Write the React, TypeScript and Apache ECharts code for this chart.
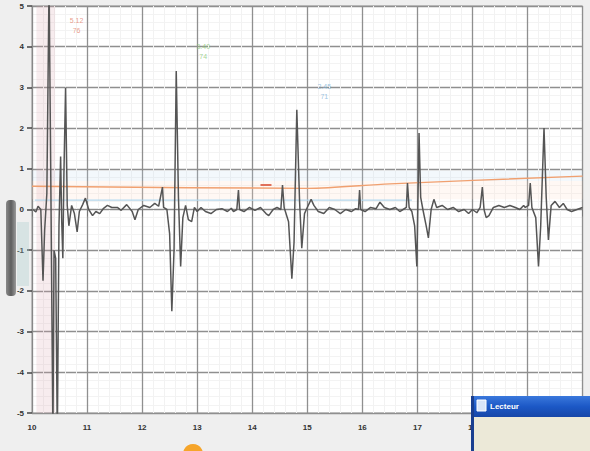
import React, { useEffect, useRef } from "react";
import * as echarts from "echarts";

const ecgTime = [
  10.02, 10.07, 10.11, 10.16, 10.2, 10.23, 10.27, 10.31, 10.34, 10.38, 10.4, 10.43, 10.46, 10.49,
  10.52, 10.54, 10.56, 10.58, 10.61, 10.64, 10.67, 10.72, 10.77, 10.82, 10.86, 10.92, 10.97, 11.03,
  11.1, 11.16, 11.23, 11.3, 11.37, 11.45, 11.55, 11.62, 11.72, 11.82, 11.87, 11.93, 12.03, 12.14,
  12.23, 12.3, 12.37, 12.39, 12.45, 12.5, 12.54, 12.58, 12.62, 12.66, 12.7, 12.74, 12.79, 12.84,
  12.9, 12.95, 13.0, 13.07, 13.15, 13.25, 13.35, 13.45, 13.55, 13.62, 13.66, 13.72, 13.75, 13.77,
  13.85, 13.95, 14.05, 14.15, 14.25, 14.3, 14.38, 14.45, 14.52, 14.55, 14.58, 14.66, 14.72, 14.76,
  14.81, 14.86, 14.9, 14.95, 15.0, 15.07, 15.12, 15.2, 15.3, 15.4, 15.5, 15.6, 15.7, 15.8, 15.88,
  15.93, 15.95, 15.97, 16.05, 16.15, 16.25, 16.32, 16.4, 16.5, 16.6, 16.68, 16.74, 16.8, 16.82,
  16.85, 16.9, 16.95, 16.99, 17.03, 17.06, 17.1, 17.16, 17.2, 17.25, 17.3, 17.35, 17.45, 17.55,
  17.65, 17.75, 17.85, 17.93, 18.0, 18.08, 18.14, 18.18, 18.21, 18.25, 18.3, 18.38, 18.48, 18.58,
  18.68, 18.78, 18.86, 18.93, 18.96, 19.02, 19.05, 19.08, 19.15, 19.2, 19.24, 19.3, 19.34, 19.38,
  19.43, 19.5, 19.58, 19.65, 19.72, 19.8, 19.9, 20.0,
];
const ecgValues = [
  0.0, -0.06, 0.08, 0.0, -1.75, -0.5, 0.4, 5.6, 1.0, -5.6, -1.0, -1.2, -5.6, -0.4,
  1.3, -0.3, -1.2, 0.9, 3.0, 0.1, -0.4, 0.1, -0.1, -0.55, -0.05, 0.12, 0.28, 0.0,
  -0.15, -0.05, -0.1, 0.03, 0.1, 0.05, 0.05, -0.02, 0.12, -0.05, -0.25, 0.0, 0.1, 0.05,
  0.15, 0.08, 0.55, 0.05, 0.0, -0.6, -2.5, -1.0, 3.4, 0.3, -1.4, -0.2, 0.1, -0.25,
  -0.3, 0.05, -0.05, 0.05, -0.05, -0.1, 0.0, 0.02, -0.05, 0.03, -0.05, 0.0, 0.48, 0.0,
  -0.05, 0.05, -0.02, 0.05, -0.1, -0.15, 0.0, 0.05, 0.0, 0.6, 0.05, -0.3, -1.7, -0.8,
  2.45, 0.2, -0.95, -0.1, 0.05, 0.25, 0.1, -0.05, -0.1, 0.05, 0.0, -0.1, 0.0, -0.05, 0.02,
  0.0, 0.48, 0.0, -0.05, 0.05, 0.02, 0.18, 0.05, 0.0, 0.05, -0.05, 0.0, 0.05, 0.65,
  0.05, -0.05, -0.4, -1.4, 1.88, 0.3, 0.0, -0.4, -0.7, 0.0, 0.25, 0.05, 0.1, 0.0,
  0.05, -0.05, 0.0, -0.1, 0.0, -0.08, 0.05, 0.55, 0.0, -0.2, -0.15, 0.05, 0.1, 0.05,
  0.1, 0.05, 0.0, 0.1, 0.05, 0.1, 0.65, 0.05, -0.2, -1.4, -0.4, 2.0, 0.3, -0.75,
  0.1, 0.2, 0.05, 0.15, 0.0, -0.05, 0.0, 0.05,
];

const trendTime = [10.0, 15.0, 16.5, 20.0];
const trendValues = [0.57, 0.52, 0.63, 0.82];

const refTime = [10.05, 16.9];
const refValues = [0.23, 0.23];

const annoTime = [10.81, 13.11, 15.31];
const annoValues = [4.51, 3.89, 2.91];
const annoTexts = ["5.12\n76", "3.40\n74", "2.45\n71"];
const annoColors = ["#e58670", "#8cc97a", "#7fb4d8"];

const bandBlue = [0.7, 0.95];
const bandPink = [0.25, 0.7];
const bandVertical = [10.08, 10.42];
const markerTime = [14.15, 14.35];
const markerValue = 0.6;

const xMin = 10;
const xMax = 20;
const yMin = -5;
const yMax = 5;

export default function App() {
  const ref = useRef<HTMLDivElement>(null);

  useEffect(() => {
    if (!ref.current) return;
    const chart = echarts.init(ref.current, null, { renderer: "svg" });
    const ecgData = ecgTime.map((t, i) => [t, ecgValues[i]]);
    const trendData = trendTime.map((t, i) => [t, trendValues[i]]);
    const refData = refTime.map((t, i) => [t, refValues[i]]);
    const annoData = annoTime.map((t, i) => ({
      value: [t, annoValues[i]],
      label: { color: annoColors[i] },
    }));

    chart.setOption({
      animation: false,
      backgroundColor: "#efefef",
      textStyle: { fontFamily: "Liberation Sans, Arial, sans-serif" },
      grid: {
        left: 32,
        right: 2,
        top: 6,
        bottom: 38,
        show: true,
        backgroundColor: "#ffffff",
        borderColor: "#9a9a9a",
        borderWidth: 1,
      },
      xAxis: {
        type: "value",
        min: xMin,
        max: xMax,
        interval: 1,
        axisLine: { show: true, lineStyle: { color: "#888" } },
        axisTick: { show: true, length: 7, lineStyle: { color: "#777" } },
        axisLabel: { fontSize: 8, color: "#333", margin: 10, fontWeight: "bold" },
        splitLine: { show: true, lineStyle: { color: "#8f8f8f", width: 1.3 } },
        minorTick: { show: false, splitNumber: 5 },
        minorSplitLine: { show: true, lineStyle: { color: "#f2f2f2", width: 1 } },
      },
      yAxis: {
        type: "value",
        min: yMin,
        max: yMax,
        interval: 1,
        axisLine: { show: true, lineStyle: { color: "#888" } },
        axisTick: { show: true, length: 5, lineStyle: { color: "#444", width: 1.5 } },
        axisLabel: { fontSize: 8, color: "#333", margin: 8, fontWeight: "bold" },
        splitLine: { show: true, lineStyle: { color: "#8f8f8f", width: 1.3 } },
        minorTick: { show: false, splitNumber: 5 },
        minorSplitLine: { show: true, lineStyle: { color: "#f3f3f3", width: 1 } },
      },
      series: [
        {
          type: "line",
          name: "bands",
          data: [],
          silent: true,
          markArea: {
            silent: true,
            data: [
              [
                { yAxis: bandBlue[0], itemStyle: { color: "rgba(190,215,240,0.18)" } },
                { yAxis: bandBlue[1] },
              ],
              [
                { yAxis: bandPink[0], itemStyle: { color: "rgba(255,225,205,0.22)" } },
                { yAxis: bandPink[1] },
              ],
              [
                { xAxis: bandVertical[0], itemStyle: { color: "rgba(215,160,170,0.2)" } },
                { xAxis: bandVertical[1] },
              ],
            ],
          },
        },
        {
          type: "line",
          name: "ref",
          data: refData,
          symbol: "none",
          lineStyle: { color: "#b4d6ea", width: 1.3 },
          z: 3,
        },
        {
          type: "line",
          name: "trend",
          data: trendData,
          symbol: "none",
          smooth: 0.3,
          lineStyle: { color: "#f0a070", width: 1.4 },
          z: 4,
          markLine: {
            silent: true,
            symbol: "none",
            label: { show: false },
            lineStyle: { color: "#e0705a", width: 2, type: "solid" },
            data: [
              [
                { coord: [markerTime[0], markerValue] },
                { coord: [markerTime[1], markerValue] },
              ],
            ],
          },
        },
        {
          type: "line",
          name: "ecg",
          data: ecgData,
          symbol: "none",
          clip: true,
          lineStyle: { color: "#555555", width: 1.5 },
          z: 5,
        },
        {
          type: "scatter",
          name: "anno",
          data: annoData,
          symbolSize: 1,
          itemStyle: { color: "rgba(0,0,0,0)" },
          label: {
            show: true,
            position: "inside",
            fontSize: 7,
            lineHeight: 10,
            formatter: (p: any) => annoTexts[p.dataIndex],
          },
          z: 6,
        },
      ],
      graphic: [
        {
          type: "rect",
          shape: { x: 6, y: 200, width: 10, height: 96, r: 4 },
          style: {
            fill: new echarts.graphic.LinearGradient(0, 0, 1, 0, [
              { offset: 0, color: "#8a8a8a" },
              { offset: 0.5, color: "#5e5e5e" },
              { offset: 1, color: "#9a9a9a" },
            ]),
          },
          z: 50,
        },
        {
          type: "rect",
          shape: { x: 17, y: 222, width: 12, height: 64 },
          style: { fill: "rgba(160,200,200,0.3)" },
          z: 50,
        },
        {
          type: "circle",
          shape: { cx: 193, cy: 454, r: 10 },
          style: { fill: "#f6a52a" },
          z: 50,
        },
        {
          type: "group",
          z: 100,
          children: [
            {
              type: "rect",
              shape: { x: 471, y: 396, width: 119, height: 55 },
              style: { fill: "#ece9d8" },
              z: 100,
            },
            {
              type: "rect",
              shape: { x: 471, y: 396, width: 119, height: 21 },
              style: {
                fill: new echarts.graphic.LinearGradient(0, 0, 0, 1, [
                  { offset: 0, color: "#3a78dc" },
                  { offset: 0.5, color: "#1c58c6" },
                  { offset: 1, color: "#1646a8" },
                ]),
              },
              z: 101,
            },
            {
              type: "rect",
              shape: { x: 471, y: 396, width: 3, height: 55 },
              style: { fill: "#1a3f90" },
              z: 102,
            },
            {
              type: "rect",
              shape: { x: 477, y: 400, width: 9, height: 11 },
              style: { fill: "#d8e4f8", stroke: "#ffffff", lineWidth: 1 },
              z: 102,
            },
            {
              type: "text",
              x: 490,
              y: 406,
              style: {
                text: "Lecteur",
                fill: "#ffffff",
                fontSize: 8,
                fontWeight: "bold",
                verticalAlign: "middle",
                fontFamily: "Liberation Sans, Arial, sans-serif",
              },
              z: 103,
            },
          ],
        },
      ],
    });

    return () => {
      chart.dispose();
    };
  }, []);

  return (
    <div
      ref={ref}
      style={{ position: "fixed", left: 0, top: 0, width: 590, height: 451 }}
    />
  );
}
